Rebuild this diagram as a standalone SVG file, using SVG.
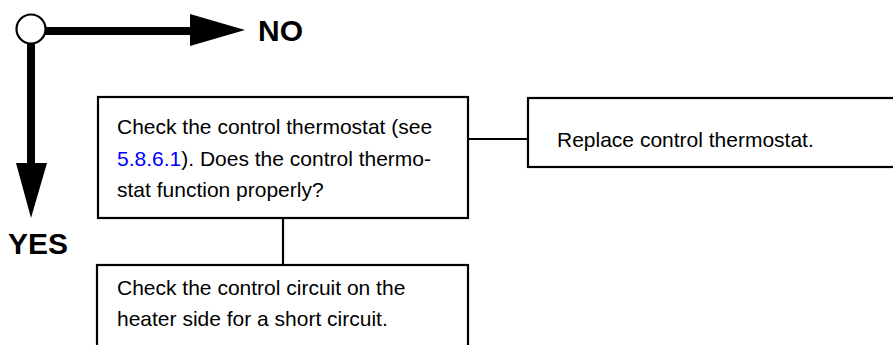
<svg xmlns="http://www.w3.org/2000/svg" width="893" height="345" viewBox="0 0 893 345">
<style>
.box{fill:#fff;stroke:#000;stroke-width:2.2}
.conn{stroke:#000;stroke-width:2.2;fill:none}
.thick{stroke:#000;stroke-width:8;fill:none}
.t{font-family:"Liberation Sans",Arial,sans-serif;font-size:21px;fill:#000}
.big{font-family:"Liberation Sans",Arial,sans-serif;font-size:30px;font-weight:bold;fill:#000}
.link{fill:#0000ff}
</style>
<g id="connectors">
<line class="thick" x1="31" y1="31" x2="192" y2="31"/>
<polygon points="190,14 245,30 190,46" fill="#000"/>
<line class="thick" x1="31" y1="30" x2="31" y2="165"/>
<polygon points="16,163 47,163 31,218" fill="#000"/>
<line class="conn" x1="468" y1="139" x2="528" y2="139"/>
<line class="conn" x1="283" y1="218" x2="283" y2="265"/>
</g>
<g id="start">
<circle cx="31" cy="29" r="14.5" fill="#fff" stroke="#000" stroke-width="2.2"/>
</g>
<g id="label-no"><text class="big" x="258" y="41">NO</text></g>
<g id="label-yes"><text class="big" x="8" y="254">YES</text></g>
<g id="check-thermostat">
<rect class="box" x="98" y="97" width="370" height="121"/>
<text class="t" x="117" y="134">Check the control thermostat (see</text>
<text class="t" x="117" y="166"><tspan class="link">5.8.6.1</tspan>). Does the control thermo-</text>
<text class="t" x="117" y="197">stat function properly?</text>
</g>
<g id="replace-thermostat">
<rect class="box" x="528" y="98" width="380" height="69"/>
<text class="t" x="557" y="147">Replace control thermostat.</text>
</g>
<g id="check-circuit">
<rect class="box" x="97" y="265" width="371" height="100"/>
<text class="t" x="117" y="295">Check the control circuit on the</text>
<text class="t" x="117" y="326">heater side for a short circuit.</text>
</g>
</svg>
